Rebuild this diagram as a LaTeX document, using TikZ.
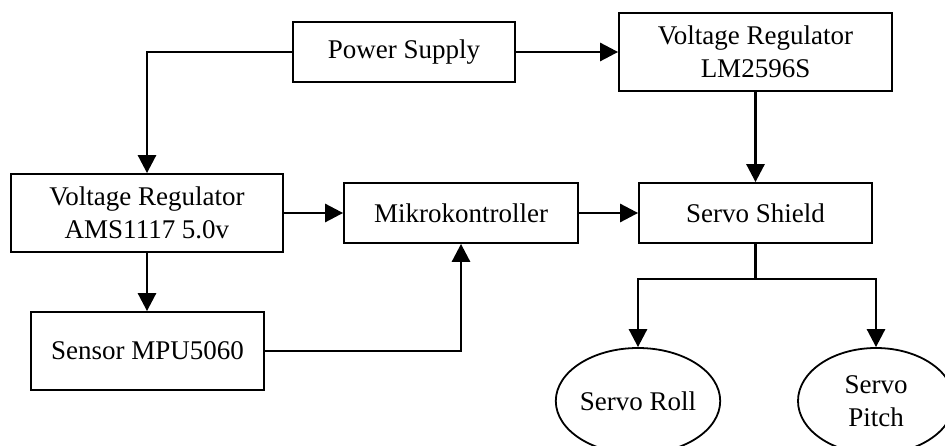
\documentclass[tikz,border=0pt]{standalone}
\usepackage{fontspec}
\setmainfont{Liberation Serif}
\usetikzlibrary{arrows.meta,shapes.geometric,calc}
\begin{document}
\begin{tikzpicture}[x=1pt,y=-1pt,
  every node/.style={font=\fontsize{27}{33}\selectfont, align=center, inner sep=0pt},
  blk/.style={draw, line width=1.8pt, rectangle},
  oval/.style={draw, line width=1.8pt, ellipse, minimum width=156pt, minimum height=106pt},
  conn/.style={line width=2.8pt, -{Triangle[length=18pt,width=18pt]}},
  seg/.style={line width=2.8pt}]
\useasboundingbox (0,0) rectangle (945,446);
\clip (0,0) rectangle (945,446);
\node[blk, minimum width=222pt, minimum height=60pt] (ps) at (404,52) {Power Supply};
\node[blk, minimum width=273pt, minimum height=78pt] (vr2) at (755.5,52) {Voltage Regulator\\LM2596S};
\node[blk, minimum width=272pt, minimum height=78pt] (vr1) at (147,213) {Voltage Regulator\\AMS1117 5.0v};
\node[blk, minimum width=234pt, minimum height=60pt] (mk) at (461,213) {Mikrokontroller};
\node[blk, minimum width=233pt, minimum height=60pt] (ss) at (755.5,213) {Servo Shield};
\node[blk, minimum width=233pt, minimum height=78pt] (sen) at (147.5,351) {Sensor MPU5060};
\node[oval] (roll) at (638,401) {Servo Roll};
\node[oval] (pitch) at (876,401) {Servo\\Pitch};
\coordinate (split) at (755.5,279);
\draw[conn] (ps.west) -| (vr1.north);
\draw[conn] (ps.east) -- (vr2.west);
\draw[conn] (vr2.south) -- (ss.north);
\draw[conn] (vr1.east) -- (mk.west);
\draw[conn] (mk.east) -- (ss.west);
\draw[conn] (vr1.south) -- (vr1.south |- sen.north);
\draw[conn] (sen.east) -| (mk.south);
\draw[seg] (ss.south) -- (split);
\draw[conn] (split) -| (roll.north);
\draw[conn] (split) -| (pitch.north);
\end{tikzpicture}
\end{document}
